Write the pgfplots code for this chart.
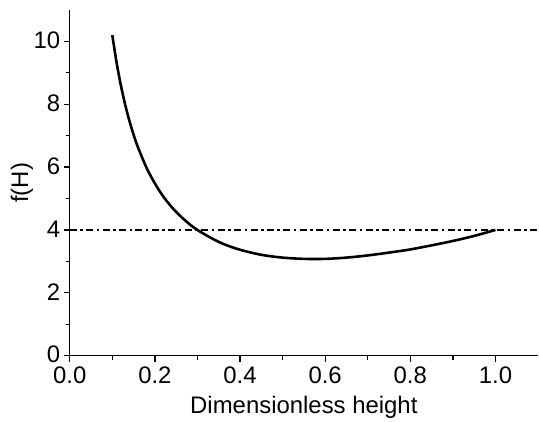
\documentclass[border=0pt]{standalone}
\usepackage{fontspec}
\setmainfont{Liberation Sans}
\usepackage{pgfplots}
\pgfplotsset{compat=1.18}

\begin{document}
\begin{tikzpicture}
\begin{axis}[
    scale only axis,
    width=470pt, height=347pt,
    xmin=0, xmax=1.1,
    ymin=0, ymax=11,
    axis x line=bottom,
    axis y line=left,
    axis line style={-, line width=1.3pt},
    xtick={0,0.2,0.4,0.6,0.8,1.0},
    ytick={0,2,4,6,8,10},
    minor tick num=1,
    tick align=outside,
    major tick length=6pt,
    minor tick length=4pt,
    every tick/.style={black, line width=1.3pt},
    tick label style={font=\fontsize{24}{28}\selectfont},
    label style={font=\fontsize{24}{28}\selectfont},
    /pgf/number format/assume math mode=true,
    xticklabel style={/pgf/number format/.cd, fixed, fixed zerofill, precision=1, /tikz/yshift=-1.5pt},
    yticklabel style={/pgf/number format/.cd, fixed, precision=0, /tikz/yshift=1pt},
    xlabel={Dimensionless height},
    ylabel={f(H)},
    xlabel style={at={(axis description cs:0.5,-0.167)}, anchor=base},
    ylabel style={at={(axis description cs:-0.089,0.5)}, anchor=base},
    clip=false,
]
% reference level
\addplot[black, line width=2pt, dash pattern=on 7pt off 3.5pt on 2.5pt off 3.5pt] coordinates {
    (0,4) (1.1,4)
};
% f(H)
\addplot[black, line width=2.6pt, smooth] coordinates {
    (0.10,10.20) (0.11,9.33) (0.12,8.61) (0.13,8.00) (0.14,7.48)
    (0.15,7.03) (0.16,6.64) (0.18,5.99) (0.20,5.48) (0.22,5.06)
    (0.24,4.72) (0.26,4.44) (0.28,4.20) (0.30,4.00) (0.33,3.76)
    (0.36,3.56) (0.40,3.37) (0.45,3.21) (0.50,3.12) (0.55,3.08)
    (0.60,3.08) (0.65,3.12) (0.70,3.19) (0.75,3.28) (0.80,3.38)
    (0.85,3.51) (0.90,3.65) (0.95,3.81) (1.00,4.00)
};
% page margins as in the reference
\path (rel axis cs:0,1) ++(-70pt,10pt);
\path (rel axis cs:0,0) ++(0,-66pt);
\end{axis}
\end{tikzpicture}
\end{document}
